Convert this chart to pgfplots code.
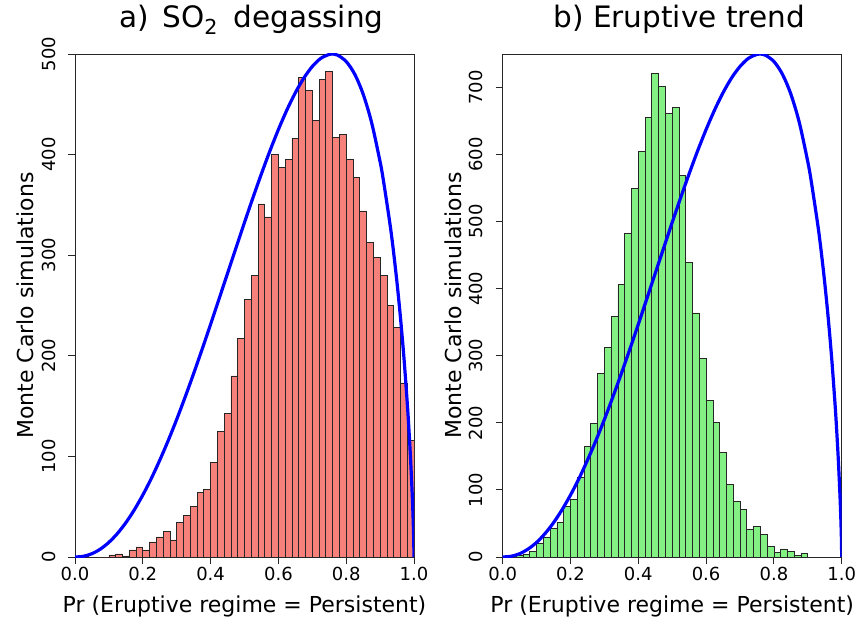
\documentclass[border=0pt]{standalone}
\usepackage{pgfplots}
\pgfplotsset{compat=1.18}
\usepackage{fontspec}
\setmainfont{DejaVu Sans}
\definecolor{barred}{RGB}{246,128,122}
\definecolor{bargreen}{RGB}{130,240,130}
\definecolor{curveblue}{RGB}{0,0,255}

\pgfplotsset{
  histax/.style={
    scale only axis,
    width=339pt, height=503pt,
    anchor=south west,
    xmin=0, xmax=1, ymin=0,
    axis line style={line width=0.9pt, black!85},
    axis x line*=box, axis y line*=box,
    xtick={0,0.2,0.4,0.6,0.8,1.0},
    xtick pos=bottom, ytick pos=left,
    tick align=outside,
    major tick length=7pt,
    tick style={line width=0.9pt, black!85},
    /pgf/number format/assume math mode=true,
    xticklabel={\pgfmathprintnumber[fixed,fixed zerofill,precision=1]{\tick}},
    yticklabel={\pgfmathprintnumber[fixed,precision=0]{\tick}},
    tick label style={font=\fontsize{18}{20}\selectfont},
    yticklabel style={rotate=90, anchor=south},
    yticklabel shift=9pt,
    label style={font=\fontsize{22}{24}\selectfont},
    xlabel={Pr (Eruptive regime = Persistent)},
    ylabel={Monte Carlo simulations},
    xlabel style={at={(axis description cs:0.5,-0.0974)}, anchor=center},
    ylabel style={at={(axis description cs:-0.147,0.5)}, anchor=center},
    title style={font=\fontsize{29.5}{32}\selectfont, at={(axis description cs:0.5,1)}, anchor=base, yshift=20.5pt, xshift=7pt},
    clip=true,
  }
}

\begin{document}
\begin{tikzpicture}
\useasboundingbox (0pt,0pt) rectangle (859pt,621pt);

% ---------------- Panel a ----------------
\begin{axis}[histax, at={(75pt,64pt)}, ymax=500,
  ytick={0,100,200,300,400,500},
  title={a)\hspace{4pt} SO\textsubscript{2}\hspace{6pt} degassing}]
\addplot[ybar interval, fill=barred, draw=black!85, line width=0.75pt] coordinates {
(0.00,0) (0.02,2) (0.04,0) (0.06,0) (0.08,0) (0.10,2) (0.12,3) (0.14,1) (0.16,7) (0.18,10)
(0.20,7) (0.22,15) (0.24,20) (0.26,25) (0.28,17) (0.30,34) (0.32,41) (0.34,50) (0.36,64) (0.38,67)
(0.40,94) (0.42,125) (0.44,143) (0.46,180) (0.48,217) (0.50,256) (0.52,280) (0.54,351) (0.56,338) (0.58,400)
(0.60,387) (0.62,395) (0.64,416) (0.66,477) (0.68,464) (0.70,434) (0.72,475) (0.74,483) (0.76,417) (0.78,420)
(0.80,395) (0.82,377) (0.84,344) (0.86,313) (0.88,298) (0.90,280) (0.92,250) (0.94,228) (0.96,173) (0.98,116)
(1.00,116)
};
\addplot[curveblue, line width=3.2pt, smooth, tension=0.5] coordinates {
(0,0) (0.025,0.7) (0.05,3.3) (0.075,7.9) (0.1,14.6) (0.125,23.3) (0.15,34.1) (0.175,46.9)
(0.2,61.6) (0.225,78.0) (0.25,96.2) (0.275,115.8) (0.3,136.8) (0.325,159.1)
(0.35,182.4) (0.375,206.5) (0.4,231.3) (0.425,256.6) (0.45,282.0) (0.475,307.4)
(0.5,332.6) (0.525,357.2) (0.55,381.0) (0.575,403.7) (0.6,424.9) (0.625,444.3)
(0.65,461.5) (0.675,476.1) (0.7,487.6) (0.725,495.7) (0.75,499.6) (0.7586,500)
(0.775,498.8) (0.8,492.5) (0.825,480.0) (0.85,460.1) (0.875,431.8) (0.9,392.8)
(0.91,373.8) (0.93,328.9) (0.94,302.3) (0.95,272.3) (0.96,238.3) (0.97,199.4)
(0.98,153.6) (0.985,127.0) (0.99,96.7) (0.995,60.2) (0.9975,37.2) (0.999,19.7) (1,0)
};
\end{axis}

% ---------------- Panel b ----------------
\begin{axis}[histax, at={(502.7pt,64pt)}, ymax=750,
  ytick={0,100,200,300,400,500,600,700},
  title={b) Eruptive trend}]
\addplot[ybar interval, fill=bargreen, draw=black!85, line width=0.75pt] coordinates {
(0.00,1) (0.02,1) (0.04,2) (0.06,4) (0.08,8) (0.10,21) (0.12,30) (0.14,43) (0.16,51) (0.18,75)
(0.20,86) (0.22,119) (0.24,165) (0.26,199) (0.28,274) (0.30,312) (0.32,359) (0.34,406) (0.36,482) (0.38,549)
(0.40,605) (0.42,656) (0.44,721) (0.46,701) (0.48,662) (0.50,670) (0.52,569) (0.54,439) (0.56,364) (0.58,296)
(0.60,234) (0.62,201) (0.64,156) (0.66,108) (0.68,83) (0.70,71) (0.72,41) (0.74,46) (0.76,33) (0.78,16)
(0.80,7) (0.82,12) (0.84,8) (0.86,2) (0.88,5) (0.90,5)
};
\addplot[curveblue, line width=3.2pt, smooth, tension=0.5] coordinates {
(0,0) (0.025,1.1) (0.05,4.9) (0.075,11.9) (0.1,21.8) (0.125,35.0) (0.15,51.2) (0.175,70.4)
(0.2,92.4) (0.225,117.0) (0.25,144.3) (0.275,173.7) (0.3,205.2) (0.325,238.7)
(0.35,273.6) (0.375,309.8) (0.4,347.0) (0.425,384.9) (0.45,423.0) (0.475,461.1)
(0.5,498.9) (0.525,535.8) (0.55,571.5) (0.575,605.6) (0.6,637.4) (0.625,666.5)
(0.65,692.3) (0.675,714.2) (0.7,731.4) (0.725,743.6) (0.75,749.4) (0.7586,750)
(0.775,748.2) (0.8,738.8) (0.825,720.0) (0.85,690.2) (0.875,647.7) (0.9,589.2)
(0.91,560.7) (0.93,493.4) (0.94,453.5) (0.95,408.5) (0.96,357.5) (0.97,299.1)
(0.98,230.4) (0.985,190.5) (0.99,145.1) (0.995,90.3) (0.9975,55.8) (0.999,29.6) (1,0)
};
\end{axis}
\end{tikzpicture}
\end{document}
